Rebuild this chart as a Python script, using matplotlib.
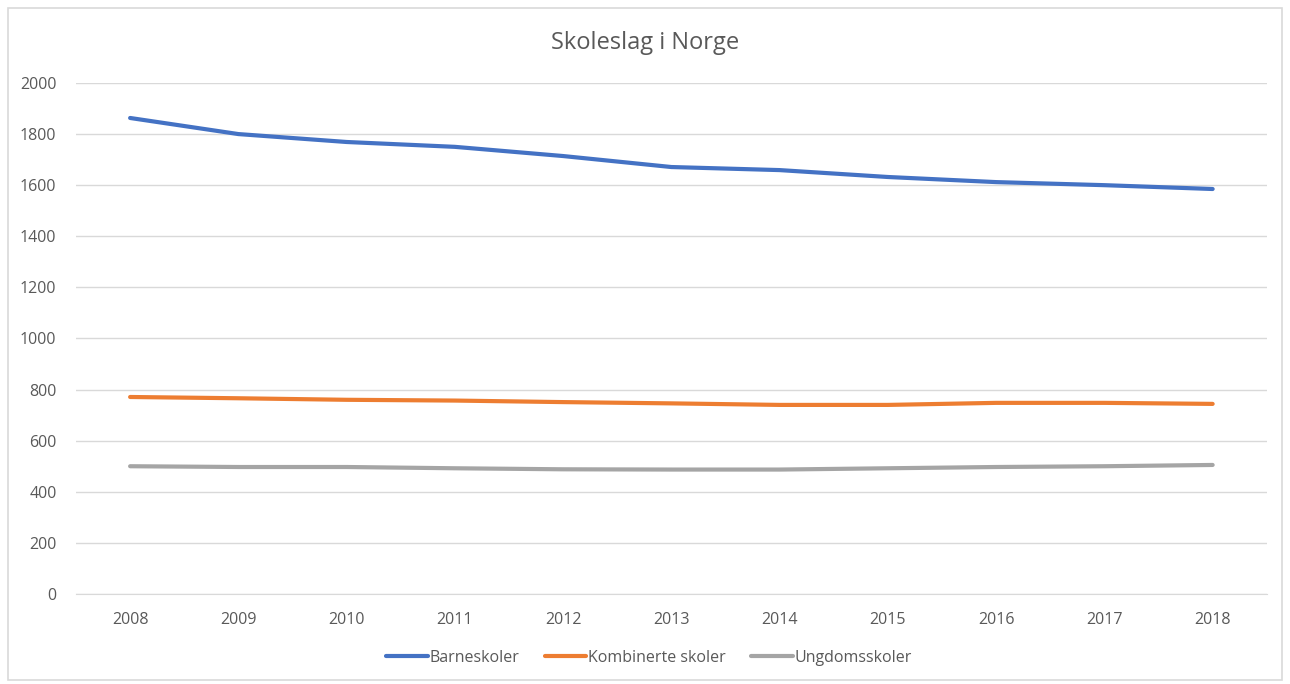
import matplotlib.pyplot as plt

years = [2008, 2009, 2010, 2011, 2012, 2013, 2014, 2015, 2016, 2017, 2018]
barneskoler = [1863, 1800, 1769, 1750, 1714, 1671, 1659, 1632, 1612, 1600, 1585]
kombinerte = [771, 766, 760, 757, 751, 746, 740, 740, 748, 748, 744]
ungdomsskoler = [500, 497, 497, 492, 488, 487, 487, 492, 497, 500, 505]

SERIES = [
    ("Barneskoler", barneskoler, "#4472c4"),
    ("Kombinerte skoler", kombinerte, "#ed7d31"),
    ("Ungdomsskoler", ungdomsskoler, "#a5a5a5"),
]

plt.rcParams['font.family'] = ['Open Sans', 'DejaVu Sans']

fig = plt.figure(figsize=(12.9, 6.84), dpi=100)
ax = fig.add_axes([0.0589, 0.1316, 0.9231, 0.7471])

# light frame around the whole chart area
fig.patches.append(plt.Rectangle((0.006, 0.006), 0.988, 0.983, transform=fig.transFigure,
                                 fill=False, edgecolor="#d9d9d9", linewidth=1.2))

x = list(range(len(years)))
for label, values, color in SERIES:
    ax.plot(x, values, color=color, linewidth=3, solid_capstyle='round',
            solid_joinstyle='round', label=label)

ax.set_xlim(-0.5, len(years) - 0.5)
ax.set_ylim(0, 2000)
ax.set_yticks(range(0, 2001, 200))
ax.set_xticks(x)
ax.set_xticklabels([str(y) for y in years])
ax.grid(axis='y', color="#d9d9d9", linewidth=1)
ax.set_axisbelow(True)
for side in ['top', 'right', 'left']:
    ax.spines[side].set_visible(False)
ax.spines['bottom'].set_color("#d9d9d9")
ax.tick_params(axis='both', length=0, colors="#595959", labelsize=11.5)
ax.tick_params(axis='y', pad=14)
ax.tick_params(axis='x', pad=13)

fig.text(0.5, 0.937, "Skoleslag i Norge", ha='center', va='center',
         fontsize=17, color="#595959")

fig.legend(loc='center', bbox_to_anchor=(0.503, 0.038), ncol=3, frameon=False,
           fontsize=11.5, labelcolor="#595959", handlelength=2.6, handletextpad=0.1,
           columnspacing=1.6)

fig.savefig("out.png", dpi=100)
